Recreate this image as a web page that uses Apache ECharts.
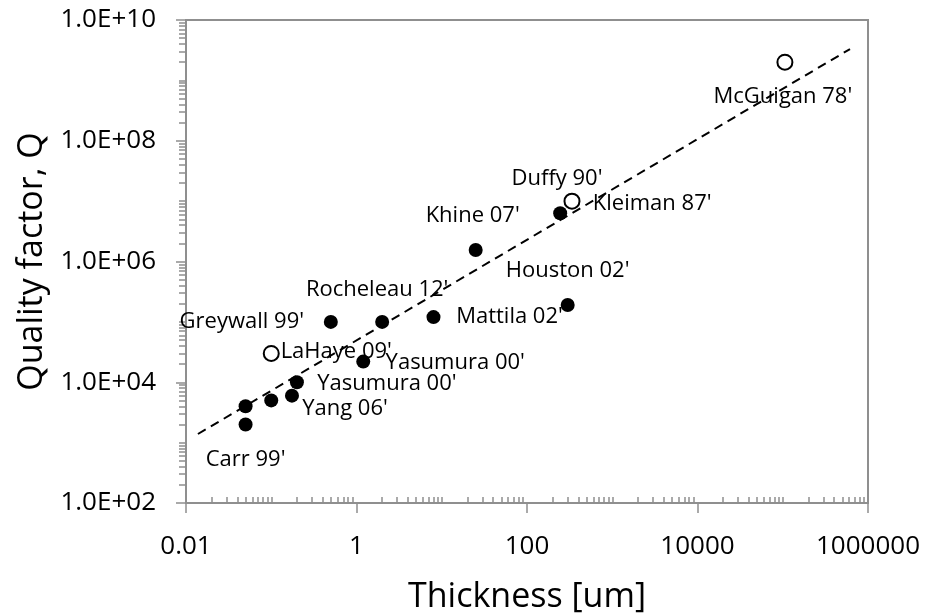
<!DOCTYPE html>
<html><head><meta charset="utf-8">
<script src="https://cdn.jsdelivr.net/npm/echarts@6/dist/echarts.min.js"></script>
<style>html,body{margin:0;padding:0;background:#fff}#c{width:926px;height:615px}</style>
</head><body><div id="c"></div>
<script>
// ---- data ----
const names = ["Carr 99'", "", "", "Yang 06'", "Yasumura 00'", "LaHaye 09'", "Greywall 99'", "Yasumura 00'", "Rocheleau 12'", "Mattila 02'", "Khine 07'", "Houston 02'", "Kleiman 87'", "Duffy 90'", "McGuigan 78'"];
const thickness = [0.05, 0.05, 0.1, 0.175, 0.2, 0.1, 0.5, 1.2, 2, 8, 25, 300, 245, 337, 106000];
const qFactor = [2000, 4000, 5000, 6000, 10000, 30000, 100000, 22000, 100000, 120000, 1550000, 190000, 6300000, 10000000, 2000000000];
const openMarker = [0, 0, 0, 0, 0, 1, 0, 0, 0, 0, 0, 0, 0, 1, 1];
const trendX = [0.0138, 615000];
const trendY = [1390, 3300000000];
const xTickValues = [0.01, 1, 100, 10000, 1000000];
const xTickLabels = ['0.01', '1', '100', '10000', '1000000'];
const yTickValues = [1e2, 1e4, 1e6, 1e8, 1e10];
const yTickLabels = ['1.0E+02', '1.0E+04', '1.0E+06', '1.0E+08', '1.0E+10'];
// label placement (layout only)
const labelOffsets = [[0,35],[0,0],[0,0],[53,13],[90,1],[65,-2],[-89,0],[92,1],[-5,-32],[76,0],[-3,-34],[0,-34],[92,-10],[-15,-22],[-2,35]];

// standard log minor ticks
function minorTicks(d0, d1) {
  const out = [];
  for (let d = d0; d < d1; d++) {
    const p = Math.pow(10, d);
    if ((d - d0) % 2 === 1) out.push(p);
    for (let m = 2; m <= 9; m++) out.push(+(m * p).toPrecision(6));
  }
  return out;
}
const xMinor = minorTicks(-2, 6);
const yMinor = minorTicks(2, 10);

function lookup(vals, labels) {
  return function (v) {
    for (let i = 0; i < vals.length; i++) {
      if (Math.abs(Math.log10(v) - Math.log10(vals[i])) < 1e-6) return labels[i];
    }
    return '';
  };
}

const FONT = "'Open Sans', sans-serif";
const AX = '#8f8f8f';
const labelStyle = { fontSize: 22, color: '#000', opacity: 1, fontFamily: FONT };

const filled = [], hollow = [];
for (let i = 0; i < names.length; i++) {
  const item = {
    value: [thickness[i], qFactor[i]],
    label: Object.assign({ show: names[i] !== '', formatter: names[i], position: 'inside', offset: labelOffsets[i] }, labelStyle)
  };
  (openMarker[i] ? hollow : filled).push(item);
}

const chart = echarts.init(document.getElementById('c'), null, { renderer: 'canvas' });
chart.setOption({
  animation: false,
  backgroundColor: '#fff',
  grid: { left: 186, right: 58, top: 20, bottom: 112, containLabel: false, outerBoundsMode: 'none', show: true, borderColor: AX, borderWidth: 2, backgroundColor: 'transparent' },
  xAxis: [
    {
      type: 'log', logBase: 10, min: 0.01, max: 1000000, position: 'bottom',
      axisLine: { show: true, lineStyle: { color: AX, width: 2 } },
      axisTick: { show: true, customValues: xTickValues, length: 10, lineStyle: { color: AX, width: 1.5 } },
      axisLabel: { customValues: xTickValues, formatter: lookup(xTickValues, xTickLabels), margin: 31, fontSize: 26, color: '#000', fontFamily: FONT },
      splitLine: { show: false }, minorTick: { show: false },
      name: 'Thickness [um]', nameLocation: 'middle', nameGap: 77,
      nameTextStyle: { fontSize: 34, color: '#000', fontFamily: FONT }
    },
    {
      type: 'log', logBase: 10, min: 0.01, max: 1000000, position: 'top', offset: -483,
      axisLine: { show: false },
      axisTick: { show: true, customValues: xMinor, inside: false, length: 6, lineStyle: { color: AX, width: 1.5 } },
      axisLabel: { show: false }, splitLine: { show: false }
    }
  ],
  yAxis: [
    {
      type: 'log', logBase: 10, min: 100, max: 1e10, position: 'left',
      axisLine: { show: true, lineStyle: { color: AX, width: 2 } },
      axisTick: { show: true, customValues: yTickValues, length: 10, lineStyle: { color: AX, width: 1.5 } },
      axisLabel: { customValues: yTickValues, formatter: lookup(yTickValues, yTickLabels), margin: 30, fontSize: 26, color: '#000', fontFamily: FONT },
      splitLine: { show: false }, minorTick: { show: false },
      name: 'Quality factor, Q', nameLocation: 'middle', nameGap: 136,
      nameTextStyle: { fontSize: 34, color: '#000', fontFamily: FONT }
    },
    {
      type: 'log', logBase: 10, min: 100, max: 1e10, position: 'right', offset: -682,
      axisLine: { show: false },
      axisTick: { show: true, customValues: yMinor, inside: true, length: 7, lineStyle: { color: AX, width: 1.5 } },
      axisLabel: { show: false }, splitLine: { show: false }
    }
  ],
  series: [
    {
      type: 'line', xAxisIndex: 0, yAxisIndex: 0, z: 2,
      data: [[trendX[0], trendY[0]], [trendX[1], trendY[1]]],
      symbol: 'none', silent: true,
      lineStyle: { color: '#000', width: 2, type: [9, 6] }
    },
    {
      type: 'scatter', xAxisIndex: 0, yAxisIndex: 0, z: 3,
      data: filled, symbol: 'circle', symbolSize: 14,
      itemStyle: { color: '#000', opacity: 1 }, label: labelStyle
    },
    {
      type: 'scatter', xAxisIndex: 0, yAxisIndex: 0, z: 3,
      data: hollow, symbol: 'circle', symbolSize: 15,
      itemStyle: { color: '#fff', borderColor: '#000', borderWidth: 2, opacity: 1 }, label: labelStyle
    }
  ]
});
</script></body></html>
